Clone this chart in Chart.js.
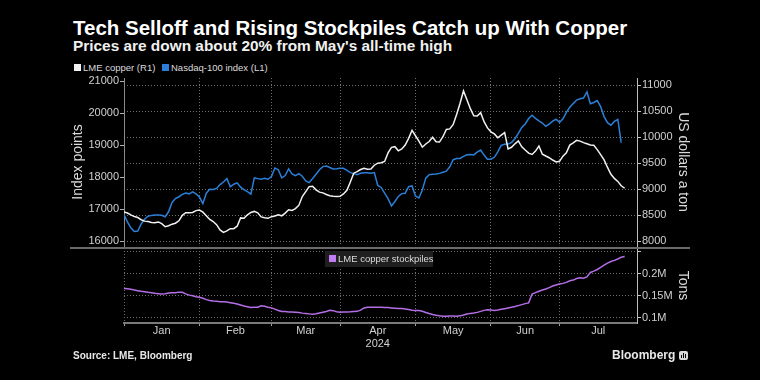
<!DOCTYPE html>
<html>
<head>
<meta charset="utf-8">
<script src="https://cdn.jsdelivr.net/npm/chart.js@4.4.1/dist/chart.umd.min.js"></script>
<style>
html,body{margin:0;padding:0;background:#000;width:760px;height:380px;overflow:hidden;}
body{position:relative;font-family:"Liberation Sans",Arial,sans-serif;color:#fff;}
.abs{position:absolute;white-space:nowrap;}
#title{left:73px;top:18px;font-size:20.5px;line-height:20px;font-weight:bold;color:#fff;}
#subtitle{left:73px;top:38px;font-size:15.4px;line-height:15px;font-weight:bold;color:#f0f0f0;}
.legend{font-size:9.5px;line-height:10px;color:#dcdcdc;}
.sw{display:inline-block;width:7px;height:7px;margin-right:2px;vertical-align:0px;}
#sep{left:70px;top:246.5px;width:620px;height:2px;background:#6a6a6a;}
#legend2{left:325px;top:251px;width:108px;height:16px;background:#1f1f1f;font-size:9.5px;line-height:16px;color:#dcdcdc;}
#legend2 .sw{margin-left:4px;}
#source{left:73px;top:351px;font-size:10px;line-height:10px;font-weight:bold;color:#e8e8e8;}
#logo{left:612px;top:349px;font-size:12px;line-height:12px;font-weight:bold;color:#e8e8e8;}
#icon{left:679px;top:351px;width:9px;height:9px;border-radius:2px;background:#d8d8d8;}
#icon i{position:absolute;bottom:2px;width:1px;background:#000;}
</style>
</head>
<body>
<div id="title" class="abs">Tech Selloff and Rising Stockpiles Catch up With Copper</div>
<div id="subtitle" class="abs">Prices are down about 20% from May's all-time high</div>
<div class="abs legend" style="left:74px;top:63px"><span class="sw" style="background:#f2f2f2"></span>LME copper (R1)</div>
<div class="abs legend" style="left:162px;top:63px"><span class="sw" style="background:#2b7fd9"></span>Nasdaq-100 index (L1)</div>
<canvas id="top" class="abs" width="760" height="180" style="left:0;top:70px;width:760px;height:180px"></canvas>
<canvas id="bot" class="abs" width="760" height="117" style="left:0;top:240px;width:760px;height:117px"></canvas>
<div id="sep" class="abs"></div>
<div id="legend2" class="abs"><span class="sw" style="background:#c17cf2"></span>LME copper stockpiles</div>
<div id="source" class="abs">Source: LME, Bloomberg</div>
<div id="logo" class="abs">Bloomberg</div>
<div id="icon" class="abs"><i style="left:2px;height:3px"></i><i style="left:4px;height:5px"></i><i style="left:6px;height:4px"></i></div>
<script>
// ---- data (one value per trading day, 2 Jan 2024 onward) ----
const monthNames = ['Jan','Feb','Mar','Apr','May','Jun','Jul'];
const yearLabel = '2024';
const monthStarts = [0, 22, 43, 63, 85, 107, 127];   // trading-day index of first day of each month
const axisEnd = 149.6;

const copper = [
8564,8545,8508,8476,8457,8415,8388,8379,8362,8359,
8373,8340,8280,8300,8330,8348,8395,8500,8551,8548,
8555,8590,8600,8560,8490,8420,8380,8320,8220,8173,
8200,8244,8244,8290,8450,8445,8510,8555,8575,8548,
8470,8455,8442,8474,8487,8511,8490,8543,8606,8595,
8630,8695,8860,8955,9052,9060,8990,8945,8932,8900,
8877,8868,8862,8865,8910,8980,9140,9310,9340,9380,
9405,9385,9390,9463,9503,9510,9535,9700,9806,9820,
9740,9775,9850,9980,10135,10030,9927,9810,9871,9918,
10000,9915,9908,10011,10152,10162,10246,10440,10656,10891,
10720,10550,10412,10410,10474,10300,10180,10105,10065,9990,
10040,10090,9775,9808,9875,9929,9818,9755,9695,9670,
9735,9833,9675,9640,9607,9563,9526,9538,9637,9700,
9850,9893,9942,9927,9897,9876,9852,9846,9763,9668,
9565,9420,9290,9210,9152,9068,9020];

const nasdaq = [
16842,16603,16420,16305,16320,16540,16690,16780,16808,16820,
16822,16814,16765,16920,17210,17335,17390,17465,17503,17480,
17540,17480,17380,17175,17500,17622,17615,17650,17770,17850,
17955,17700,17780,17825,17690,17615,17550,17470,17976,17955,
17934,17966,17934,18018,18288,18230,17980,18050,18257,18100,
18050,18110,18030,17880,17830,17960,18090,18230,18330,18345,
18300,18255,18265,18278,18278,18210,18142,18110,18080,18125,
18135,18140,18125,18142,17740,17680,17500,17330,17102,17240,
17400,17487,17500,17706,17726,17414,17352,17600,17970,18080,
18090,18100,18118,18155,18187,18325,18545,18580,18583,18650,
18700,18710,18695,18780,18845,18690,18560,18560,18620,18790,
18995,19026,19033,19080,19200,19367,19550,19660,19830,19931,
19835,19757,19690,19585,19655,19746,19806,19705,19820,20023,
20180,20295,20405,20446,20470,20659,20290,20330,20390,20200,
19890,19700,19620,19740,19800,19078];

const stocks = [
167000,166200,164800,163300,161800,160300,159500,158000,157200,155800,
155000,154200,154900,156600,157100,157100,158500,158200,154500,151700,
150200,148300,146800,144600,141500,139800,138500,137600,136800,136500,
136000,134600,133200,131600,129400,127000,125400,123800,124200,124500,
127400,126600,124400,122900,120000,117000,114700,114500,113800,113700,
113000,112400,111000,110100,109300,108600,109400,111400,113100,114800,
117300,116600,114000,112900,113300,113700,114000,114800,115000,117700,
122800,124400,124400,124400,124400,124200,123600,123500,122700,122000,
121300,121200,120400,119000,117500,116700,116700,115400,112500,110100,
107900,106300,104900,104000,103800,104400,104600,104100,104800,106800,
109000,110400,111100,112700,114900,117200,118600,117900,117100,118100,
119600,121100,122600,124100,125800,128000,130300,132500,134200,153900,
157500,160500,163500,165600,168700,172400,174600,176900,178300,180600,
184300,185800,189300,191100,190000,193000,203000,206100,209800,214800,
219500,224000,227700,230400,233500,237600,239300];

const leftTicks = [16000,17000,18000,19000,20000,21000];
const rightTicks = [8000,8500,9000,9500,10000,10500,11000];
const stockTicks = [100000,150000,200000,250000];

// ---- chart setup ----
const FONT = '"Liberation Sans", Arial, sans-serif';
Chart.defaults.font.family = FONT;
Chart.defaults.color = '#d0d0d0';
const gridGrey = '#6e6e6e';
const dayIndex = copper.map((_, i) => i);
const monthMids = monthStarts.map((m, i) => (m + (i + 1 < monthStarts.length ? monthStarts[i + 1] : axisEnd)) / 2);

function setTicks(vals) { return s => { s.ticks = vals.map(v => ({ value: v })); }; }
function fixBox(w, h) {
  return s => {
    if (w !== null) s.width = w;
    if (h !== null) s.height = h;
    s.paddingTop = 0; s.paddingBottom = 0; s.paddingLeft = 0; s.paddingRight = 0;
  };
}
const axisTitle = (text) => ({ display: true, text, color: '#dcdcdc', font: { size: 14 }, padding: { top: 4, bottom: 4 } });

new Chart(document.getElementById('top'), {
  type: 'line',
  data: {
    labels: dayIndex,
    datasets: [
      { label: 'LME copper (R1)', data: copper, yAxisID: 'yR', borderColor: '#f2f2f2', borderWidth: 1.5, pointRadius: 0, tension: 0 },
      { label: 'Nasdaq-100 index (L1)', data: nasdaq, yAxisID: 'yL', borderColor: '#2b7fd9', borderWidth: 1.5, pointRadius: 0, tension: 0 }
    ]
  },
  options: {
    responsive: false, animation: false, events: [],
    layout: { padding: { left: 66, right: 65, top: 8, bottom: 4 } },
    plugins: { legend: { display: false }, tooltip: { enabled: false } },
    scales: {
      x: {
        type: 'linear', min: 0, max: axisEnd,
        afterBuildTicks: setTicks(monthStarts.slice(1)), afterFit: fixBox(null, 0),
        ticks: { display: false },
        grid: { color: gridGrey, drawTicks: false },
        border: { display: false, dash: [1, 2] }
      },
      yL: {
        type: 'linear', position: 'left', min: 15853, max: 21094,
        afterBuildTicks: setTicks(leftTicks), afterFit: fixBox(58, null),
        ticks: { color: '#d0d0d0', font: { size: 11 }, padding: 1, callback: v => String(v) },
        grid: { drawOnChartArea: false, drawTicks: true, tickLength: 4, tickColor: '#b0b0b0' },
        border: { display: true, color: '#8a8a8a', width: 1 },
        title: axisTitle('Index points')
      },
      yR: {
        type: 'linear', position: 'right', min: 7910, max: 11140,
        afterBuildTicks: setTicks(rightTicks), afterFit: fixBox(58, null),
        ticks: { color: '#d0d0d0', font: { size: 11 }, padding: 1, callback: v => String(v) },
        grid: { color: gridGrey, drawOnChartArea: true, drawTicks: true, tickLength: 4, tickColor: '#c8c8c8', tickBorderDash: [] },
        border: { display: true, color: '#bdbdbd', width: 1, dash: [1, 2] },
        title: axisTitle('US dollars a ton')
      }
    }
  }
});

new Chart(document.getElementById('bot'), {
  type: 'line',
  data: {
    labels: dayIndex,
    datasets: [
      { label: 'LME copper stockpiles', data: stocks, xAxisID: 'x', yAxisID: 'yS', borderColor: '#b46ee6', borderWidth: 1.5, pointRadius: 0, tension: 0 }
    ]
  },
  options: {
    responsive: false, animation: false, events: [],
    layout: { padding: { left: 124, right: 65, top: 8, bottom: 0 } },
    plugins: { legend: { display: false }, tooltip: { enabled: false } },
    scales: {
      x: {
        type: 'linear', position: 'bottom', weight: 0, min: 0, max: axisEnd,
        afterBuildTicks: setTicks(monthStarts), afterFit: fixBox(null, 0),
        ticks: { display: false },
        grid: { color: gridGrey, drawTicks: true, tickLength: 3, tickColor: '#a0a0a0', tickBorderDash: [] },
        border: { display: true, color: '#7a7a7a', width: 2, dash: [1, 2] }
      },
      xLab: {
        type: 'linear', position: 'bottom', weight: 1, min: 0, max: axisEnd,
        afterBuildTicks: setTicks(monthMids), afterFit: fixBox(null, 34),
        ticks: { color: '#d0d0d0', font: { size: 11 }, padding: 1, maxRotation: 0, autoSkip: false,
          callback: (v, i) => i === 3 ? [monthNames[i], yearLabel] : monthNames[i] },
        grid: { display: false, drawTicks: false },
        border: { display: false }
      },
      yS: {
        type: 'linear', position: 'right', min: 88640, max: 258400,
        afterBuildTicks: setTicks(stockTicks), afterFit: fixBox(58, null),
        ticks: { color: '#d0d0d0', font: { size: 11 }, padding: 1,
          callback: v => v >= 250000 ? '' : (v / 1e6) + 'M' },
        grid: { color: gridGrey, drawOnChartArea: true, drawTicks: true, tickLength: 4, tickColor: '#c8c8c8', tickBorderDash: [] },
        border: { display: true, color: '#bdbdbd', width: 1, dash: [1, 2] },
        title: axisTitle('Tons')
      }
    }
  }
});
</script>
</body>
</html>
